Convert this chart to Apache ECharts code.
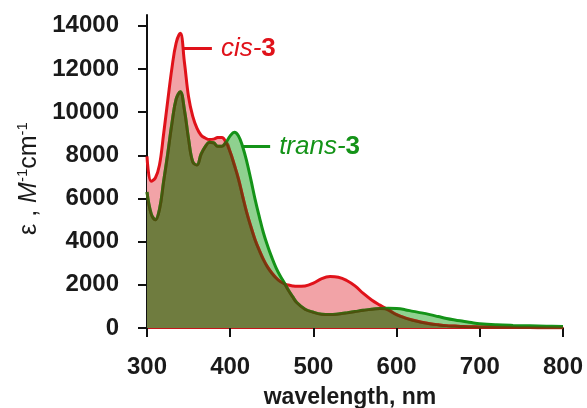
<!DOCTYPE html>
<html>
<head>
<meta charset="utf-8">
<script src="https://cdn.jsdelivr.net/npm/echarts@6/dist/echarts.min.js"></script>
<style>
html,body{margin:0;padding:0;background:#fff;}
#chart{width:587px;height:408px;}
</style>
</head>
<body>
<div id="chart"></div>
<script>
// ---- data ----
const wavelengths = [300,305,310,315,320,325,330,335,340,345,350,355,360,365,370,375,380,385,390,395,400,405,410,415,420,425,430,435,440,445,450,455,460,465,470,475,480,490,500,510,520,530,540,550,560,570,580,590,600,610,620,630,640,650,660,670,680,690,700,720,740,760,780,800];
const cis3 = [7950,6800,6950,7550,9000,10550,12050,13200,13650,12300,10700,9800,9260,8930,8800,8730,8750,8820,8830,8600,8150,7550,6900,6100,5330,4680,4080,3600,3170,2820,2550,2330,2160,2050,1990,1950,1930,1950,2080,2290,2380,2350,2200,1950,1600,1300,1060,840,620,470,360,270,200,150,110,90,70,60,50,40,30,20,15,10];
const trans3 = [6300,5300,5020,5500,6800,8100,9500,10600,10950,10100,8750,7700,7550,8050,8400,8600,8580,8420,8420,8600,8900,9070,8900,8400,7700,6850,5950,5150,4400,3800,3270,2800,2420,2100,1750,1450,1180,870,730,640,620,650,700,760,820,870,900,910,900,850,770,700,620,530,440,370,310,250,200,150,120,100,80,70];
const xTickValues = [300,400,500,600,700,800];
const yTickValues = [0,2000,4000,6000,8000,10000,12000,14000];
const seriesNames = ['cis-3','trans-3'];
// annotation leader lines (data space)
const cisLeader = [[344,12950],[378,12950]];
const transLeader = [[414,8410],[448,8410]];

const RED = '#e0121a';
const GREEN = '#149318';
const pair = arr => wavelengths.map((w,i)=>[w, arr[i]]);
const overlap = wavelengths.map((w,i)=>[w, Math.min(cis3[i], trans3[i])]);
const SMOOTH = 0.4;
const LW = 3;

const chart = echarts.init(document.getElementById('chart'), null, {renderer:'canvas'});
const FONT = '"Liberation Sans", Arial, sans-serif';

chart.setOption({
  animation:false,
  backgroundColor:'#ffffff',
  grid:{left:147, right:24, top:15, bottom:80, containLabel:false, outerBoundsMode:'none'},
  xAxis:{
    type:'value', min:300, max:800, interval:100,
    name:'wavelength, nm', nameLocation:'middle', nameGap:58,
    nameTextStyle:{fontFamily:FONT, fontWeight:'bold', fontSize:23, color:'#1a1a1a', padding:[0,10,0,0]},
    axisLine:{show:true, lineStyle:{color:'#c4161c', width:2}},
    axisTick:{show:true, length:9, lineStyle:{color:'#111', width:2}, customValues:xTickValues},
    axisLabel:{margin:27, fontFamily:FONT, fontWeight:'bold', fontSize:24, color:'#1a1a1a', customValues:xTickValues,
      formatter:v=>String(v)},
    splitLine:{show:false}
  },
  yAxis:{
    type:'value', min:0, max:14500, interval:2000,
    name:'{e|ε , }{m|M}{s|-1}{n|cm}{s|-1}', nameLocation:'middle', nameGap:104, nameRotate:90,
    nameTextStyle:{
      fontFamily:FONT, fontSize:25, color:'#1a1a1a', padding:[0,14,0,0],
      rich:{
        e:{fontFamily:FONT, fontSize:25, color:'#1a1a1a', lineHeight:28},
        m:{fontFamily:FONT, fontSize:25, fontStyle:'italic', color:'#1a1a1a', lineHeight:28},
        n:{fontFamily:FONT, fontSize:25, color:'#1a1a1a', lineHeight:28},
        s:{fontFamily:FONT, fontSize:15, color:'#1a1a1a', lineHeight:16, verticalAlign:'top'}
      }
    },
    axisLine:{show:true, lineStyle:{color:'#111', width:2}},
    axisTick:{show:true, length:9, lineStyle:{color:'#111', width:2}, customValues:yTickValues},
    axisLabel:{margin:28, fontFamily:FONT, fontWeight:'bold', fontSize:24, color:'#1a1a1a', customValues:yTickValues,
      formatter:v=>String(v)},
    splitLine:{show:false}
  },
  series:[
    {name:'cis-3 fill', type:'line', data:pair(cis3), smooth:SMOOTH, showSymbol:false, silent:true,
     lineStyle:{width:0, opacity:0}, areaStyle:{color:'#f2a3a7', opacity:1}, z:2},
    {name:'trans-3 fill', type:'line', data:pair(trans3), smooth:SMOOTH, showSymbol:false, silent:true,
     lineStyle:{width:0, opacity:0}, areaStyle:{color:'#8fd18f', opacity:1}, z:3},
    {name:seriesNames[0], type:'line', data:pair(cis3), smooth:SMOOTH, showSymbol:false,
     lineStyle:{color:RED, width:LW}, z:4,
     markLine:{silent:true, symbol:['none','none'], animation:false,
       lineStyle:{color:RED, width:LW, type:'solid'},
       label:{show:true, position:'end', distance:9, formatter:'{i|cis-}{b|3}',
         rich:{i:{fontFamily:FONT, fontSize:26, fontStyle:'italic', color:RED},
               b:{fontFamily:FONT, fontSize:26, fontWeight:'bold', color:RED}}},
       data:[[{coord:cisLeader[0]},{coord:cisLeader[1]}]]}},
    {name:seriesNames[1], type:'line', data:pair(trans3), smooth:SMOOTH, showSymbol:false,
     lineStyle:{color:GREEN, width:LW}, z:5,
     markLine:{silent:true, symbol:['none','none'], animation:false,
       lineStyle:{color:GREEN, width:LW, type:'solid'},
       label:{show:true, position:'end', distance:9, formatter:'{i|trans-}{b|3}',
         rich:{i:{fontFamily:FONT, fontSize:26, fontStyle:'italic', color:GREEN},
               b:{fontFamily:FONT, fontSize:26, fontWeight:'bold', color:GREEN}}},
       data:[[{coord:transLeader[0]},{coord:transLeader[1]}]]}},
    {name:'overlap', type:'line', data:overlap, smooth:SMOOTH, showSymbol:false, silent:true,
     lineStyle:{color:'rgba(90,67,10,0.6)', width:LW},
     areaStyle:{color:'rgba(90,67,10,0.6)', opacity:1}, z:6}
  ]
});
</script>
</body>
</html>
